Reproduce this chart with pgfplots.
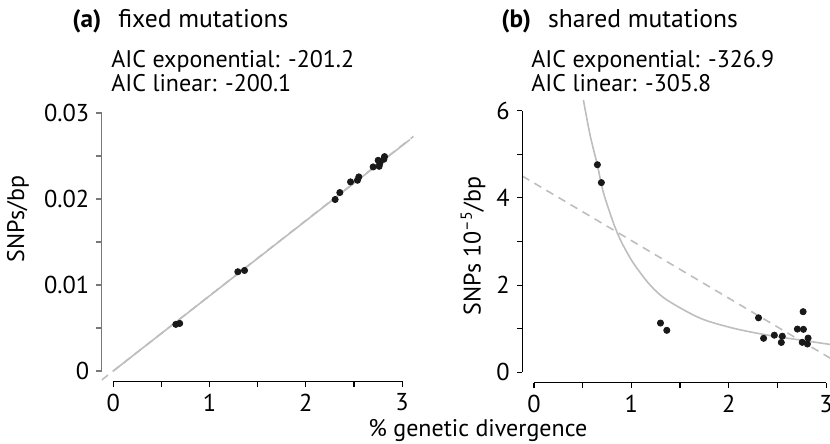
\documentclass[border=0pt]{standalone}
\usepackage{pgfplots}
\pgfplotsset{compat=1.18}
\usepackage{fontspec}
\setmainfont{PT Sans}
\definecolor{fitgray}{RGB}{190,190,190}
\definecolor{ptcol}{RGB}{25,25,25}
\definecolor{axgray}{RGB}{120,120,120}
\pgfplotsset{
  myaxis/.style={
    scale only axis,
    anchor=south west,
    axis x line*=bottom,
    axis y line*=left,
    x axis line style={draw=none},
    y axis line style={draw=none},
    tick align=outside,
    major tick length=2.75pt,
    every tick/.style={line width=0.6pt},
    tick label style={font=\fontsize{12.2}{14}\selectfont},
    /pgf/number format/assume math mode=true,
    scaled y ticks=false,
    scaled x ticks=false,
    xtick={0,0.5,1,1.5,2,2.5,3},
    xticklabels={0,,1,,2,,3},
  },
  pts/.style={only marks, mark=*, mark size=1.55pt, color=ptcol},
  fitsolid/.style={no marks, color=fitgray, line width=0.8pt},
  fitdash/.style={no marks, color=fitgray, line width=0.8pt, dash pattern=on 4pt off 3pt},
}
\begin{document}
\begin{tikzpicture}
\useasboundingbox (0,0) rectangle (415pt,222pt);
% ---------- (a) fixed mutations ----------
\begin{axis}[myaxis,
  at={(50.85pt,31.35pt)}, width=156pt, height=139.3pt,
  xmin=-0.12, xmax=3.12, ymin=-0.0012, ymax=0.0312,
  ytick={0,0.005,0.01,0.015,0.02,0.025,0.03},
  yticklabels={0,,0.01,,0.02,,0.03},
  y tick style={color=axgray},
]
\addplot[fitdash] coordinates {(-0.12,-0.00105) (3.12,0.0273)};
\addplot[fitsolid] coordinates {(0,0) (3.08,0.0269)};
\addplot[pts] coordinates {
(0.65,0.00542) (0.69,0.00553) (1.294,0.01154) (1.363,0.01169)
(2.304,0.01994) (2.353,0.02075) (2.464,0.02199) (2.536,0.02218)
(2.55,0.02257) (2.699,0.02373) (2.751,0.0245) (2.761,0.0238)
(2.768,0.02412) (2.81,0.02462) (2.817,0.02493)};
\coordinate (ax0) at (axis cs:0,-0.0012);
\coordinate (ax3) at (axis cs:3,-0.0012);
\coordinate (ay0) at (axis cs:-0.12,0);
\coordinate (ay3) at (axis cs:-0.12,0.03);
\end{axis}
\draw[line width=0.6pt, black] (ax0) -- (ax3);
\draw[line width=0.6pt, axgray] (ay0) -- (ay3);
% ---------- (b) shared mutations ----------
\begin{axis}[myaxis,
  at={(261.15pt,30.6pt)}, width=153.85pt, height=141.3pt,
  xmin=-0.12, xmax=3.04, ymin=-0.24, ymax=6.24,
  ytick={0,1,2,3,4,5,6},
  yticklabels={0,,2,,4,,6},
]
\addplot[fitdash] coordinates {(-0.12,4.50) (3.04,0.327)};
\addplot[fitsolid, smooth] coordinates {
(0.48,6.6) (0.507,6.25) (0.576,5.44) (0.651,4.75) (0.713,4.12)
(0.82,3.40) (0.9,2.98) (1.022,2.50) (1.193,2.00) (1.365,1.66)
(1.708,1.24) (2.05,1.01) (2.394,0.855) (2.737,0.74) (3.04,0.64)};
\addplot[pts] coordinates {
(0.651,4.76) (0.692,4.35) (1.299,1.13) (1.364,0.963)
(2.306,1.25) (2.358,0.78) (2.468,0.852) (2.54,0.685)
(2.55,0.828) (2.705,0.992) (2.764,1.39) (2.767,0.986)
(2.755,0.688) (2.815,0.785) (2.808,0.65)};
\coordinate (bx0) at (axis cs:0,-0.24);
\coordinate (bx3) at (axis cs:3,-0.24);
\coordinate (by0) at (axis cs:-0.12,0);
\coordinate (by6) at (axis cs:-0.12,6);
\end{axis}
\draw[line width=0.6pt, black] (bx0) -- (bx3);
\draw[line width=0.6pt, black] (by0) -- (by6);
% ---------- texts ----------
\begin{scope}[every node/.style={inner sep=0pt, font=\fontsize{12}{14}\selectfont}]
\node[anchor=base west, font=\fontsize{12.6}{14}\selectfont] at (36pt,208pt) {\textbf{(a)}};
\node[anchor=base west, font=\fontsize{12.8}{14}\selectfont] at (59pt,208pt) {fixed mutations};
\node[anchor=base west] at (55.5pt,188pt) {AIC exponential: -201.2};
\node[anchor=base west] at (55.5pt,176pt) {AIC linear: -200.1};
\node[anchor=base west, font=\fontsize{12.6}{14}\selectfont] at (250.5pt,208pt) {\textbf{(b)}};
\node[anchor=base west, font=\fontsize{12.8}{14}\selectfont] at (273.85pt,208pt) {shared mutations};
\node[anchor=base west] at (265.5pt,188pt) {AIC exponential: -326.9};
\node[anchor=base west] at (265.5pt,176pt) {AIC linear: -305.8};
\node[rotate=90] at (9pt,112.5pt) {SNPs/bp};
\node[rotate=90] at (236.5pt,99pt) {SNPs 10\textsuperscript{--5}/bp};
\node[anchor=base west] at (184pt,3.65pt) {\% genetic divergence};
\end{scope}
\end{tikzpicture}
\end{document}
